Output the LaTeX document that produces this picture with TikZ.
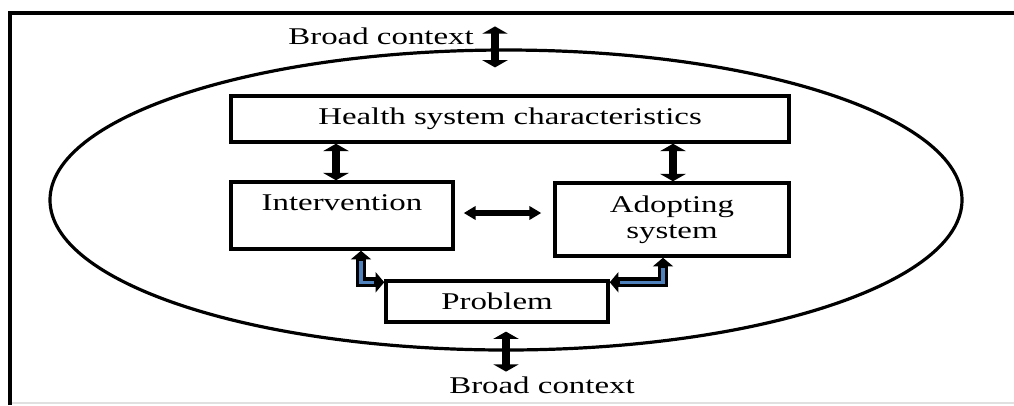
\documentclass[tikz,border=0pt]{standalone}
\usepackage{fontspec}
\setmainfont{Liberation Serif}[FakeStretch=1.37]
\usetikzlibrary{shapes.geometric,arrows.meta,calc}
\definecolor{blueish}{RGB}{79,129,189}
\begin{document}
\begin{tikzpicture}[x=0.75pt,y=-0.75pt,
  box/.style={draw, line width=2.6pt, inner sep=0pt, align=center, font=\fontsize{18}{19.5}\selectfont},
  lbl/.style={inner sep=0pt, font=\fontsize{18}{19.5}\selectfont},
  vdbl/.style={line width=6pt, {Triangle[width=19pt,length=5.5pt]}-{Triangle[width=19pt,length=5.5pt]}},
  hdbl/.style={line width=5pt, {Triangle[width=10pt,length=9pt]}-{Triangle[width=10pt,length=9pt]}},
  bluearr/.style={line width=7.5pt, {Triangle[width=15pt,length=6.5pt]}-{Triangle[width=15pt,length=6.5pt]},
    postaction={draw=blueish, line width=2.6pt, shorten <=8pt, shorten >=8pt, arrows=-}}]
  \useasboundingbox (0,0) rectangle (1014,405);
  \draw[line width=3pt] (10,405) -- (10,13) -- (1014,13);
  \draw[black!12, line width=0.8pt] (12,403) -- (1014,403);

  \node[draw, ellipse, line width=2.4pt, minimum width=684pt, minimum height=225pt] (ctx) at (506,200) {};

  \node[box, minimum width=418.5pt, minimum height=34.5pt] (health) at (510,119) {Health system characteristics};
  \node[box, minimum width=166.5pt, minimum height=50.25pt] (inter) at (342,215.5) {Intervention\\\mbox{}};
  \node[box, minimum width=175.5pt, minimum height=54.75pt] (adopt) at (672,219.5) {Adopting\\system};
  \node[box, minimum width=166.5pt, minimum height=30.75pt] (prob) at (497,301.5) {Problem};

  \node[lbl, anchor=east] (bctop) at (474,36) {Broad context};
  \node[lbl] (bcbot) at (542,385) {Broad context};

  \coordinate (xl) at (336,0);
  \coordinate (xr) at (673,0);
  \coordinate (ym) at (0,213);

  \draw[vdbl] (health.south -| xl) -- (inter.north -| xl);
  \draw[vdbl] (health.south -| xr) -- (adopt.north -| xr);
  \draw[hdbl, shorten <=6.75pt, shorten >=9pt] (inter.east |- ym) -- (adopt.west |- ym);
  \draw[bluearr] ($(inter.south)+(19,0)$) |- ($(prob.north west)+(0,3)$);
  \draw[bluearr] ($(adopt.south)+(-9,0)$) |- ($(prob.north east)+(0,3)$);
  \draw[vdbl] ($(ctx.north)+(-11,-22)$) -- ($(ctx.north)+(-11,19)$);
  \draw[vdbl] ($(ctx.south)+(0,-20)$) -- ($(ctx.south)+(0,20)$);
\end{tikzpicture}
\end{document}
